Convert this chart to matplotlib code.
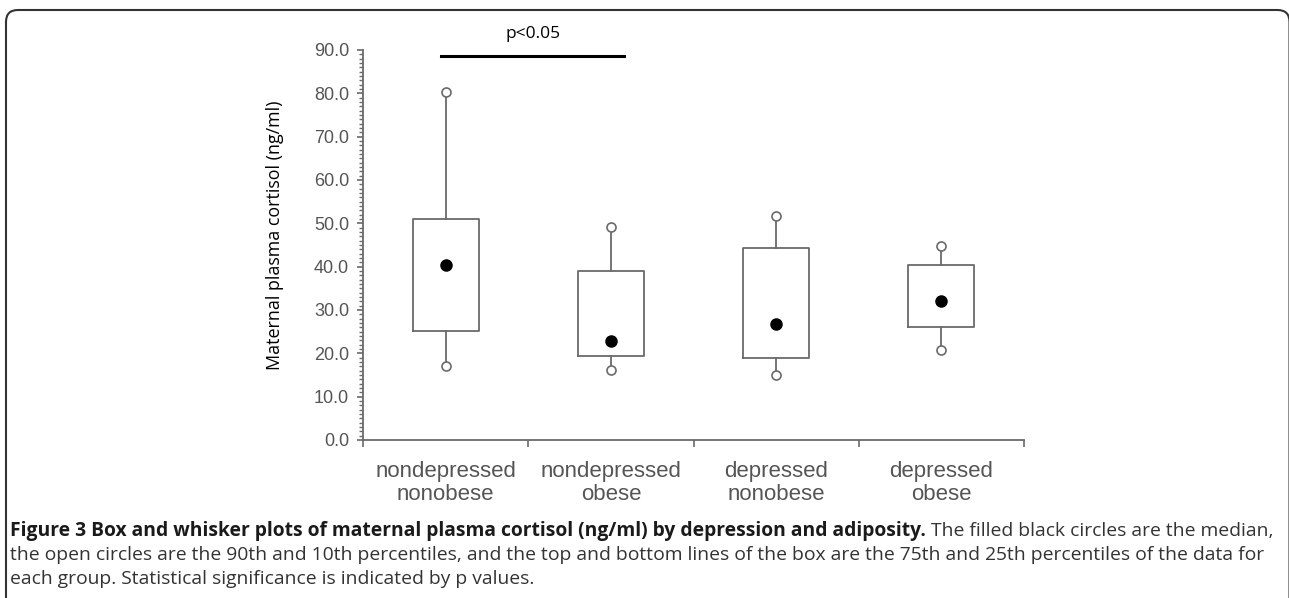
import matplotlib.pyplot as plt
from matplotlib.patches import FancyBboxPatch
from matplotlib.ticker import MultipleLocator

# data (ng/ml)
groups = ['nondepressed\nnonobese', 'nondepressed\nobese', 'depressed\nnonobese', 'depressed\nobese']
p10 = [17.1, 16.2, 15.0, 20.8]
p25 = [25.2, 19.5, 18.9, 26.1]
median = [40.5, 22.8, 26.8, 32.0]
p75 = [51.0, 39.0, 44.4, 40.3]
p90 = [80.4, 49.1, 51.8, 44.8]
yticks = [0, 10, 20, 30, 40, 50, 60, 70, 80, 90]
sig_label = 'p<0.05'

GRAY = '#6a6a6a'


def main():
    fig = plt.figure(figsize=(12.89, 5.98), dpi=100)
    ax = fig.add_axes([363 / 1289, 1 - 440 / 598, (1024 - 363) / 1289, 390 / 598])

    pos = [i + 0.5 for i in range(len(groups))]
    stats = []
    for i in range(len(groups)):
        stats.append({'med': median[i], 'q1': p25[i], 'q3': p75[i],
                      'whislo': p10[i], 'whishi': p90[i], 'fliers': []})
    ax.bxp(stats, positions=pos, widths=0.4, showcaps=False, showfliers=False,
           boxprops=dict(color=GRAY, linewidth=1.3),
           whiskerprops=dict(color=GRAY, linewidth=1.3),
           medianprops=dict(visible=False))

    # percentile circles and median dots
    ax.plot(pos, p90, 'o', ms=6.5, mfc='white', mec=GRAY, mew=1.2, ls='none', zorder=3)
    ax.plot(pos, p10, 'o', ms=6.5, mfc='white', mec=GRAY, mew=1.2, ls='none', zorder=3)
    ax.plot(pos, median, 'o', ms=8, color='black', ls='none', zorder=4)

    # significance bar
    ax.plot([0.47, 1.58], [88.5, 88.5], color='black', lw=2.2, clip_on=False)
    ax.text(1.03, 93.8, sig_label, ha='center', va='center', fontsize=12.5,
            family='Open Sans', clip_on=False)

    ax.set_xlim(0, 4)
    ax.set_ylim(0, 90)
    ax.set_yticks(yticks)
    ax.set_yticklabels(['%.1f' % v for v in yticks], family='Liberation Sans',
                       fontsize=13, color='#555555')
    ax.yaxis.set_minor_locator(MultipleLocator(1))
    ax.tick_params(axis='y', which='major', length=4, width=1.2, color=GRAY, pad=6)
    ax.tick_params(axis='y', which='minor', length=3, width=1.0, color=GRAY)

    ax.set_xticks([0, 1, 2, 3, 4])
    ax.set_xticklabels([])
    ax.set_xticks(pos, minor=True)
    ax.set_xticklabels(groups, minor=True, family='Liberation Sans', fontsize=16,
                       color='#555555', linespacing=1.15)
    ax.tick_params(axis='x', which='major', length=5, width=1.2, color=GRAY, direction='out')
    ax.tick_params(axis='x', which='minor', length=0, pad=15)

    for s in ['top', 'right']:
        ax.spines[s].set_visible(False)
    for s in ['left', 'bottom']:
        ax.spines[s].set_color(GRAY)
        ax.spines[s].set_linewidth(1.3)

    fig.text(275 / 1289, 1 - 235 / 598, 'Maternal plasma cortisol (ng/ml)',
             rotation=90, ha='center', va='center', fontsize=12.9, family='Open Sans')

    # outer frame with rounded corners
    frame = FancyBboxPatch((0.06, -0.5), 12.835, 6.38,
                           boxstyle='round,pad=0,rounding_size=0.12',
                           transform=fig.dpi_scale_trans, fill=False,
                           edgecolor='#333333', linewidth=1.5)
    fig.patches.append(frame)

    # caption
    r = fig.canvas.get_renderer()
    cap_font = dict(family='Open Sans', fontsize=13.9, va='baseline')
    x0 = 10 / 1289
    t1 = fig.text(x0, 1 - 536 / 598,
                  'Figure 3 Box and whisker plots of maternal plasma cortisol (ng/ml) by depression and adiposity.',
                  fontweight='bold', color='#1a1a1a', **cap_font)
    bb = t1.get_window_extent(renderer=r)
    fig.text((bb.x1 + 5) / 1289, 1 - 536 / 598,
             'The filled black circles are the median,', color='#333333', **cap_font)
    fig.text(x0, 1 - 560 / 598,
             'the open circles are the 90th and 10th percentiles, and the top and bottom lines '
             'of the box are the 75th and 25th percentiles of the data for',
             color='#333333', **cap_font)
    fig.text(x0, 1 - 584 / 598, 'each group. Statistical significance is indicated by p values.',
             color='#333333', **cap_font)

    fig.savefig('out.png', dpi=100)


if __name__ == "__main__":
    main()
